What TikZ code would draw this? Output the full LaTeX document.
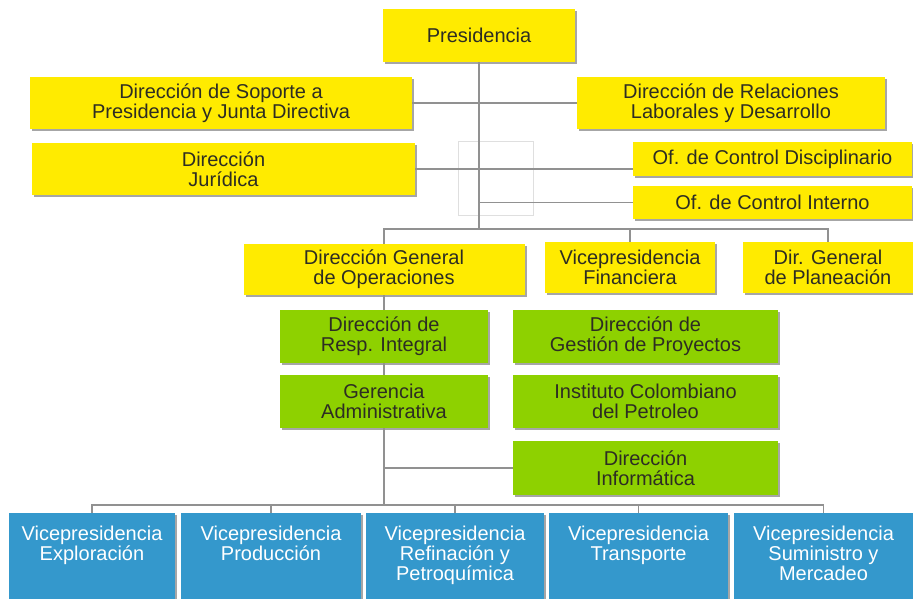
\documentclass[tikz,border=0pt]{standalone}
\usepackage{fontspec}
\setmainfont{Liberation Sans}
\usetikzlibrary{shadows}
\definecolor{boxyellow}{RGB}{255,235,0}
\definecolor{boxgreen}{RGB}{142,209,0}
\definecolor{boxblue}{RGB}{52,152,204}
\definecolor{linkgray}{RGB}{145,145,145}
\definecolor{labelink}{RGB}{45,45,35}
\begin{document}
\begin{tikzpicture}[x=1pt,y=-1pt,
  box/.style={rectangle, inner sep=0pt, align=center,
    font=\fontsize{20}{20}\selectfont,
    general shadow={shadow xshift=2pt, shadow yshift=-2pt, fill=black, opacity=.35}},
  ybox/.style={box, fill=boxyellow, text=labelink},
  gbox/.style={box, fill=boxgreen, text=labelink},
  bbox/.style={box, fill=boxblue, text=white, anchor=north, minimum height=95pt},
  link/.style={draw=linkgray, line width=1.3pt},
  guide/.style={draw=gray!25, line width=0.8pt}]
\useasboundingbox (0,0) rectangle (913,598);
\fill[white] (0,0) rectangle (913,598);

% faint frame around the staff offices
\draw[guide] (458,141) rectangle (533,215);

% top level and staff units
\node[ybox, minimum width=192pt, minimum height=53pt] (pres) at (479,35.5) {Presidencia};
\node[ybox, minimum width=382pt, minimum height=52pt] (sop) at (221,103) {Dirección de Soporte a\\Presidencia y Junta Directiva};
\node[ybox, minimum width=308pt, minimum height=52pt] (rel) at (731,103) {Dirección de Relaciones\\Laborales y Desarrollo};
\node[ybox, minimum width=383pt, minimum height=52pt] (jur) at (223.5,169) {Dirección\\Jurídica};
\node[ybox, minimum width=279pt, minimum height=34pt] (disc) at (772.5,159) {Of. de Control Disciplinario};
\node[ybox, minimum width=279pt, minimum height=33pt] (int) at (772.5,202.5) {Of. de Control Interno};

% second level
\node[ybox, minimum width=281pt, minimum height=51pt] (dgo) at (384,269.5) {Dirección General\\de Operaciones};
\node[ybox, minimum width=170pt, minimum height=51pt] (fin) at (630,267.5) {Vicepresidencia\\Financiera};
\node[ybox, minimum width=170pt, minimum height=51pt] (plan) at (828,267.5) {Dir. General\\de Planeación};

% green units
\node[gbox, minimum width=208pt, minimum height=53pt] (resp) at (384,336.5) {Dirección de\\Resp. Integral};
\node[gbox, minimum width=265pt, minimum height=53pt] (gest) at (645.5,336.5) {Dirección de\\Gestión de Proyectos};
\node[gbox, minimum width=208pt, minimum height=53pt] (ger) at (384,401.5) {Gerencia\\Administrativa};
\node[gbox, minimum width=265pt, minimum height=53pt] (icp) at (645.5,401.5) {Instituto Colombiano\\del Petroleo};
\node[gbox, minimum width=265pt, minimum height=54pt] (inf) at (645.5,468) {Dirección\\Informática};

% vice presidencies
\newcommand{\vplabel}[1]{\parbox[t][70pt][t]{160pt}{\centering\baselineskip=20pt #1}}
\node[bbox, minimum width=166pt] (b1) at (92,513) {\vplabel{Vicepresidencia\\Exploración}};
\node[bbox, minimum width=180pt] (b2) at (271,513) {\vplabel{Vicepresidencia\\Producción}};
\node[bbox, minimum width=178pt] (b3) at (455,513) {\vplabel{Vicepresidencia\\Refinación y\\Petroquímica}};
\node[bbox, minimum width=179pt] (b4) at (638.5,513) {\vplabel{Vicepresidencia\\Transporte}};
\node[bbox, minimum width=179pt] (b5) at (823.5,513) {\vplabel{Vicepresidencia\\Suministro y\\Mercadeo}};

% connectors
\coordinate (topbus) at (479,229);
\coordinate (botbus) at (384,505);
\draw[link] (pres.south) -- (topbus);
\draw[link] (sop.east) -- (sop.east -| pres.south);
\draw[link] (rel.west) -- (rel.west -| pres.south);
\draw[link] (jur.east) -- (jur.east -| disc.west);
\draw[link] (int.west -| pres.south) -- (int.west);
\draw[link] (dgo.north) -- (dgo.north |- topbus) -- (plan.north |- topbus) -- (plan.north);
\draw[link] (fin.north) -- (fin.north |- topbus);
\draw[link] (dgo.south) -- (resp.north);
\draw[link] (resp.south) -- (ger.north);
\draw[link] (ger.south) -- (botbus);
\draw[link] (inf.west) -- (inf.west -| ger.south);
\draw[link] (b1.north) -- (b1.north |- botbus) -- (b5.north |- botbus) -- (b5.north);
\draw[link] (b2.north) -- (b2.north |- botbus);
\draw[link] (b3.north) -- (b3.north |- botbus);
\draw[link] (b4.north) -- (b4.north |- botbus);
\end{tikzpicture}
\end{document}
